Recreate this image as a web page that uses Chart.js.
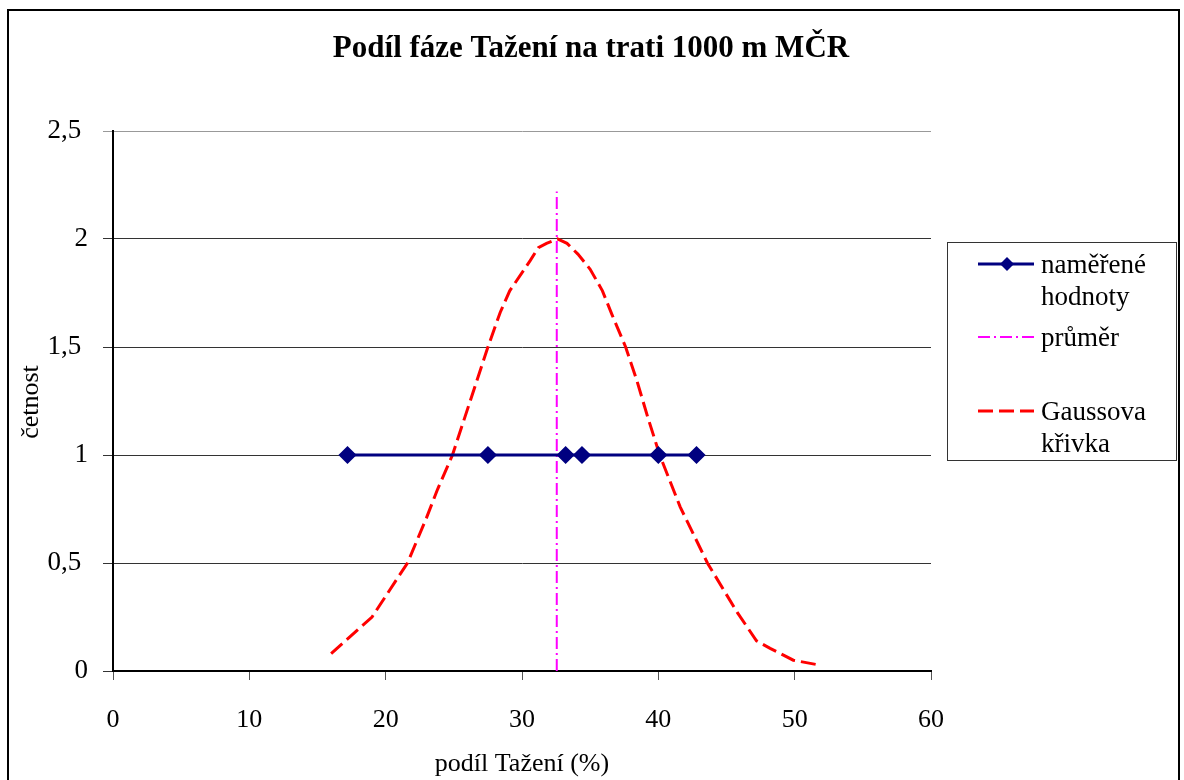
<!DOCTYPE html>
<html>
<head>
<meta charset="utf-8">
<script src="https://cdn.jsdelivr.net/npm/chart.js@4/dist/chart.umd.min.js"></script>
<style>
  html, body { margin: 0; padding: 0; background: #fff; }
  #wrap { width: 1184px; height: 780px; position: relative; }
</style>
</head>
<body>
<div id="wrap"><canvas id="graf"></canvas></div>
<script>
// naměřené hodnoty (podíl Tažení v %), každá s četností 1
const namereneX = [17.2, 27.5, 33.2, 34.4, 40.0, 42.8];
const namereneY = [1, 1, 1, 1, 1, 1];

// průměr - svislá čára
const prumerX = [32.55, 32.55];
const prumerY = [0, 2.22];

// Gaussova křivka
const gaussX = [16.0, 19.0, 21.6, 23.0, 23.8, 24.9, 27.5, 28.4, 29.1, 30.6, 31.2, 31.8, 32.6,
                33.3, 34.1, 35.0, 35.9, 36.6, 37.6, 38.4, 39.2, 40.1, 41.6, 43.6, 45.8, 47.2, 48.2, 49.9, 51.6];
const gaussY = [0.08, 0.25, 0.5, 0.71, 0.84, 1.0, 1.5, 1.66, 1.76, 1.9, 1.96, 1.98, 2.0,
                1.98, 1.93, 1.86, 1.76, 1.65, 1.5, 1.35, 1.18, 1.0, 0.76, 0.5, 0.27, 0.14, 0.105, 0.05, 0.03];

const yTicks = [0, 0.5, 1, 1.5, 2, 2.5];
const xTicks = [0, 10, 20, 30, 40, 50, 60];

const legendLabels = [['naměřené', 'hodnoty'], ['průměr'], ['Gaussova', 'křivka']];

const pts = (xs, ys) => xs.map((x, i) => ({ x: x, y: ys[i] }));

const font = 'Liberation Serif';

// rámeček, nadpis, popis osy y a legenda
const kresba = {
    id: 'kresba',
    beforeDraw(chart) {
        const c = chart.ctx;
        c.save();
        c.fillStyle = '#fff';
        c.fillRect(0, 0, chart.width, chart.height);
        c.restore();
    },
    afterDraw(chart) {
        const c = chart.ctx;
        c.save();
        // vnější rámeček
        c.strokeStyle = '#000';
        c.lineWidth = 2;
        c.strokeRect(8, 10, 1171, 790);

        // nadpis
        c.fillStyle = '#000';
        c.font = 'bold 31px "' + font + '"';
        c.textAlign = 'center';
        c.textBaseline = 'middle';
        c.fillText('Podíl fáze Tažení na trati 1000 m MČR', 591, 49);

        // popis osy y
        c.save();
        c.translate(31, 402);
        c.rotate(-Math.PI / 2);
        c.font = '26px "' + font + '"';
        c.fillText('četnost', 0, 0);
        c.restore();

        // legenda
        c.strokeStyle = '#333';
        c.lineWidth = 1;
        c.strokeRect(947.5, 242.5, 229, 218);
        c.font = '27px "' + font + '"';
        c.textAlign = 'left';
        c.textBaseline = 'middle';
        const rows = [264, 337, 411];
        chart.data.datasets.forEach((ds, i) => {
            const y = rows[i];
            c.save();
            c.strokeStyle = ds.borderColor;
            c.lineWidth = ds.borderWidth;
            c.setLineDash(ds.borderDash || []);
            c.beginPath();
            c.moveTo(978, y);
            c.lineTo(1034, y);
            c.stroke();
            if (ds.pointRadius > 0) {
                c.fillStyle = ds.pointBackgroundColor;
                c.beginPath();
                c.moveTo(1007, y - 7);
                c.lineTo(1014, y);
                c.lineTo(1007, y + 7);
                c.lineTo(1000, y);
                c.closePath();
                c.fill();
            }
            c.restore();
            legendLabels[i].forEach((t, j) => {
                c.fillText(t, 1041, y + 2 + j * 32);
            });
        });
        c.restore();
    }
};

const ctx = document.getElementById('graf').getContext('2d');
const graf = new Chart(ctx, {
    type: 'scatter',
    data: {
        datasets: [{
            label: 'naměřené hodnoty',
            data: pts(namereneX, namereneY),
            showLine: true,
            borderColor: '#000080',
            backgroundColor: '#000080',
            pointBackgroundColor: '#000080',
            pointBorderColor: '#000080',
            borderWidth: 3,
            pointStyle: 'rectRot',
            pointRadius: 7,
            order: 1
        }, {
            label: 'průměr',
            data: pts(prumerX, prumerY),
            showLine: true,
            borderColor: '#ff00ff',
            borderWidth: 2,
            borderDash: [12, 4, 2, 4],
            pointRadius: 0,
            order: 2
        }, {
            label: 'Gaussova křivka',
            data: pts(gaussX, gaussY),
            showLine: true,
            borderColor: '#ff0000',
            borderWidth: 3,
            borderDash: [15, 6],
            pointRadius: 0,
            tension: 0,
            order: 3
        }]
    },
    options: {
        responsive: true,
        maintainAspectRatio: false,
        animation: false,
        layout: { padding: { left: 0, right: 253, top: 131, bottom: 0 } },
        plugins: {
            legend: { display: false },
            title: { display: false },
            tooltip: { enabled: false }
        },
        scales: {
            x: {
                type: 'linear',
                min: 0,
                max: 60,
                afterBuildTicks: (s) => { s.ticks = xTicks.map(v => ({ value: v })); },
                afterFit: (s) => { s.height = 109; },
                grid: {
                    display: true,
                    drawOnChartArea: false,
                    drawTicks: true,
                    tickLength: 9,
                    color: '#555',
                    lineWidth: 1
                },
                border: { display: true, color: '#000', width: 2 },
                ticks: {
                    color: '#000',
                    font: { family: font, size: 26 },
                    padding: 25,
                    maxRotation: 0
                },
                title: {
                    display: true,
                    text: 'podíl Tažení (%)',
                    color: '#000',
                    font: { family: font, size: 26 },
                    padding: { top: 8, bottom: 0 }
                }
            },
            y: {
                type: 'linear',
                min: 0,
                max: 2.5,
                afterBuildTicks: (s) => { s.ticks = yTicks.map(v => ({ value: v })); },
                afterFit: (s) => { s.width = 113; },
                grid: {
                    display: true,
                    drawTicks: true,
                    tickLength: 10,
                    color: (c) => c.tick && c.tick.value === 2.5 ? '#999' : '#333',
                    lineWidth: 1
                },
                border: { display: true, color: '#000', width: 2 },
                ticks: {
                    color: '#000',
                    font: { family: font, size: 27 },
                    padding: 15,
                    callback: (v) => Number.isInteger(v) ? String(v) : String(v).replace('.', ',') + ' '
                }
            }
        }
    },
    plugins: [kresba]
});
</script>
</body>
</html>
